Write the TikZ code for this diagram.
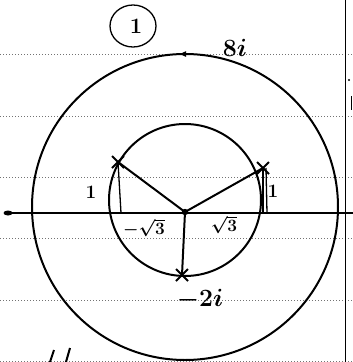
\documentclass[tikz,border=0pt]{standalone}
\usetikzlibrary{arrows.meta,shapes.misc,shapes.geometric}
\begin{document}
\begin{tikzpicture}[x=1pt,y=-1pt,
  ink/.style={line width=2pt, black},
  thin ink/.style={line width=1.3pt, black},
  ruled/.style={black!55, line width=1pt, dash pattern=on 1pt off 2pt},
  xmark/.style={cross out, draw, line width=2pt, minimum size=10pt, inner sep=0pt},
  lbl/.style={inner sep=0pt, font=\boldmath\bfseries\fontsize{19}{21}\selectfont},
  biglbl/.style={inner sep=0pt, font=\boldmath\fontsize{28}{30}\selectfont}]
\useasboundingbox (0,0) rectangle (353,362);
% ruled paper
\foreach \yy in {54,116,177,238,300,361} \draw[ruled] (0,\yy) -- (353,\yy);
\draw[line width=1pt] (345,0) -- (345,362);
\fill (349,80) circle (1.2);
\draw[line width=1pt] (351,96) -- (351,110);
% circled number
\node[draw, ellipse, line width=1.3pt, minimum width=46pt, minimum height=42pt, inner sep=0pt] (num) at (133,26) {};
\node[inner sep=0pt, font=\bfseries\fontsize{22}{24}\selectfont] (numtxt) at (136,26) {1};
% circles
\coordinate (B) at (185,207);
\coordinate (C) at (185,200);
\draw[ink] (B) circle (153);
\draw[ink] (C) circle (76);
% axis
\coordinate (L) at (8,213);
\coordinate (R) at (353,213);
\draw[ink] (L) -- (R);
\fill (L) ellipse (4.5 and 2.5);
% centre and points
\coordinate (O) at (185,212);
\fill (O) circle (3.2);
\node[xmark] (A) at (118,162) {};
\node[xmark] (D) at (263,168) {};
\node[xmark] (E) at (182,275) {};
\draw[ink] (O) -- (A.center);
\draw[ink] (O) -- (D.center);
\draw[ink] (O) -- (E.center);
\coordinate (Af) at (121,213);
\draw[thin ink] (A.center) -- (Af);
\coordinate (D1) at (263,213);
\coordinate (D2) at (267,213);
\draw[thin ink] (D.center) -- (D1);
\draw[thin ink] ([xshift=3pt]D.center) -- (D2);
% arrow on big circle
\coordinate (T1) at (192,54);
\coordinate (T2) at (179,54);
\draw[-{Latex[length=7pt,width=6pt]}, line width=1pt] (T1) -- (T2);
% labels
\node[biglbl] (l8i) at (235,48) {$8i$};
\node[biglbl] (lm2i) at (200,300) {$-2i$};
\node[lbl] (lms3) at (144,228) {$-\sqrt{3}$};
\node[lbl] (ls3) at (224,225) {$\sqrt{3}$};
\node[lbl] (l1a) at (91,192) {1};
\node[lbl] (l1b) at (273,191) {1};
% bottom-left fragment
\draw[ink] (50,362) -- (54,350);
\draw[ink] (66,362) -- (70,348);
\end{tikzpicture}
\end{document}
